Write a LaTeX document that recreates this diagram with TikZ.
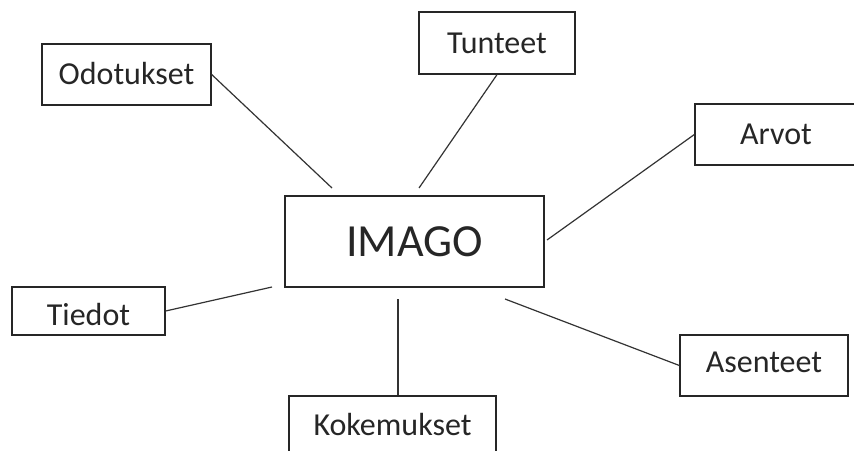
\documentclass[tikz,border=0pt]{standalone}
\usepackage{fontspec}
\setmainfont{Carlito}
\begin{document}
\begin{tikzpicture}[x=1pt,y=-1pt,
  box/.style={draw=black!85, line width=1.3pt, rectangle, inner sep=0pt,
    text=black!85, font=\fontsize{32}{36}\selectfont, text height=20.6pt, text depth=0pt},
  bigbox/.style={box, font=\fontsize{46}{50}\selectfont, text height=29.6pt},
  link/.style={draw=black!80, line width=1.2pt}]
\useasboundingbox (0,0) rectangle (854,450);
\fill[white] (0,0) rectangle (854,450);
\node[bigbox, minimum width=259pt, minimum height=91pt] (imago) at (414.5,241.5) {IMAGO};
\node[box, minimum width=169pt, minimum height=61pt] (odo) at (126.5,74.5) {Odotukset};
\node[box, minimum width=156pt, minimum height=62pt] (tun) at (497,43) {Tunteet};
\node[box, minimum width=162pt, minimum height=61pt] (arv) at (776,134.5) {Arvot};
\node[box, minimum width=153pt, minimum height=48pt, text height=29.6pt] (tie) at (88.5,311) {Tiedot};
\node[box, minimum width=207pt, minimum height=58pt] (kok) at (392.5,425) {Kokemukset};
\node[box, minimum width=168pt, minimum height=61pt, text height=14pt] (ase) at (764,365.5) {Asenteet};
\coordinate (o1) at (332,188);
\coordinate (t1) at (419,188);
\coordinate (a1) at (547,240);
\coordinate (d1) at (272,287);
\coordinate (k1) at (398,299);
\coordinate (s1) at (505,299);
\draw[link] (odo.east) -- (o1);
\draw[link] (tun.south) -- (t1);
\draw[link] (arv.west) -- (a1);
\draw[link] (tie.east) -- (d1);
\draw[link] (k1) -- (k1 |- kok.north);
\draw[link] (ase.west) -- (s1);
\end{tikzpicture}
\end{document}
